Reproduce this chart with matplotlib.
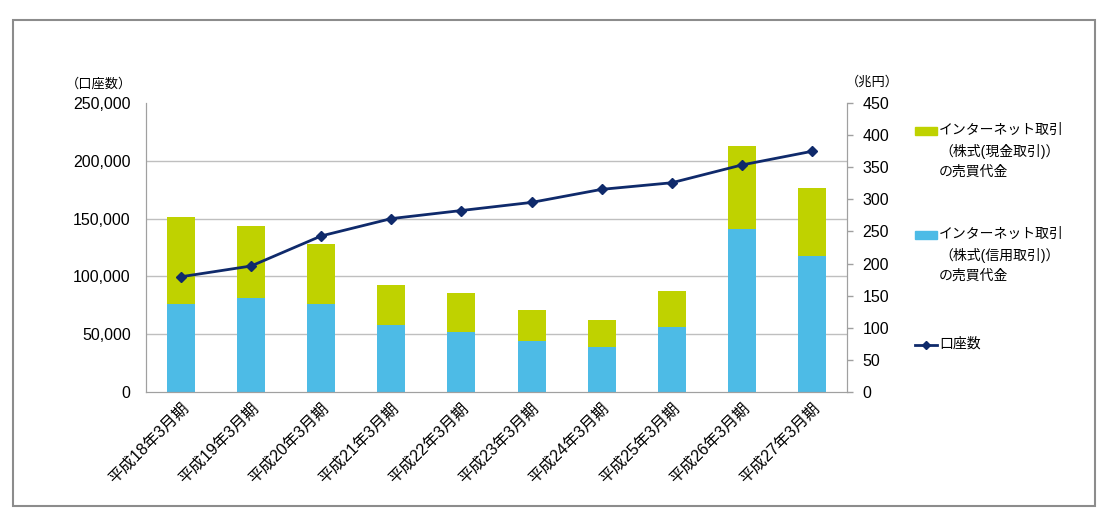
import numpy as np
import matplotlib
matplotlib.use('Agg')
from matplotlib import pyplot as plt
from matplotlib.patches import Rectangle
from matplotlib.lines import Line2D

plt.rcParams['font.family'] = ['Liberation Sans', 'Noto Sans CJK JP']

# Data
periods = ['平成18年3月期', '平成19年3月期', '平成20年3月期', '平成21年3月期', '平成22年3月期',
           '平成23年3月期', '平成24年3月期', '平成25年3月期', '平成26年3月期', '平成27年3月期']
margin_value = [137, 147, 137, 105, 94, 80, 70, 101, 254, 212]   # 信用取引 (兆円)
cash_value = [136, 112, 93, 61, 60, 48, 42, 56, 129, 105]       # 現金取引 (兆円)
accounts = [99700, 109000, 135000, 150000, 157000, 164000, 175300, 181000, 196400, 208200]

green = '#BFD200'
blue = '#4DBBE6'
navy = '#0F2A6B'
grid_col = '#BFBFBF'

fig = plt.figure(figsize=(11.11, 5.27), dpi=100)
ax = fig.add_axes([146 / 1111, 1 - 392 / 527, 701 / 1111, 289 / 527])
ax2 = ax.twinx()

x = np.arange(len(periods))
# Bars (right axis, 兆円)
ax.bar(x, margin_value, width=0.4, color=blue, zorder=2)
ax.bar(x, cash_value, width=0.4, bottom=margin_value, color=green, zorder=2)
ax.set_ylim(0, 450)
ax.set_xlim(-0.5, len(periods) - 0.5)
ax.set_yticks(np.arange(0, 451, 50))
ax.yaxis.tick_right()
ax.tick_params(axis='y', length=4, width=1, color='#A0A0A0', pad=7, labelsize=11.5)

# grid lines follow the left axis (口座数) ticks, drawn behind the bars
left_ticks = np.arange(0, 250001, 50000)
ax.set_yticks(left_ticks * 450 / 250000, minor=True)
ax.tick_params(axis='y', which='minor', length=0)
ax.grid(axis='y', which='minor', color=grid_col, linewidth=1, zorder=0)
ax.set_axisbelow(True)

# Line (left axis, 口座数)
ax2.plot(x, accounts, color=navy, linewidth=2, marker='D', markersize=5.5, zorder=3)
ax2.set_ylim(0, 250000)
ax2.set_yticks(left_ticks)
ax2.yaxis.tick_left()
ax2.yaxis.set_major_formatter(matplotlib.ticker.StrMethodFormatter('{x:,.0f}'))
ax2.tick_params(axis='y', length=0, pad=11, labelsize=11.5)

for a in (ax, ax2):
    a.spines['top'].set_visible(False)
    for s in ('left', 'right', 'bottom'):
        a.spines[s].set_color('#A0A0A0')

ax.set_xticks(x)
ax.set_xticklabels(periods, rotation=45, ha='right', rotation_mode='anchor', fontsize=11.5)
ax.tick_params(axis='x', length=0, pad=6)

# Axis unit labels
fig.text(99 / 1111, 1 - 84 / 527, '（口座数）', ha='center', va='center', fontsize=9.5)
fig.text(872 / 1111, 1 - 82 / 527, '（兆円）', ha='center', va='center', fontsize=9.5)

# Legend
leg_items = [
    ('patch', green, 131, 'インターネット取引\n（株式(現金取引)）\nの売買代金'),
    ('patch', blue, 235, 'インターネット取引\n（株式(信用取引)）\nの売買代金'),
    ('line', navy, 345, '口座数'),
]
for kind, col, yy, label in leg_items:
    yf = 1 - yy / 527
    if kind == 'patch':
        fig.patches.append(Rectangle((915 / 1111, yf - 4 / 527), 22 / 1111, 8 / 527,
                                     transform=fig.transFigure, color=col))
    else:
        fig.lines.append(Line2D([915 / 1111, 926 / 1111, 937 / 1111], [yf, yf, yf],
                                transform=fig.transFigure, color=col, linewidth=2,
                                marker='D', markersize=4.5, markevery=[1]))
    fig.text(939 / 1111, yf + 8 / 527, label, ha='left', va='top', fontsize=10,
             linespacing=1.55)

# Outer frame
fig.patches.append(Rectangle((12.5 / 1111, 1 - 506 / 527), 1082.5 / 1111, 486.5 / 527,
                             transform=fig.transFigure, fill=False, edgecolor='#8C8C8C',
                             linewidth=1.5))

plt.savefig('out.png', dpi=100)
